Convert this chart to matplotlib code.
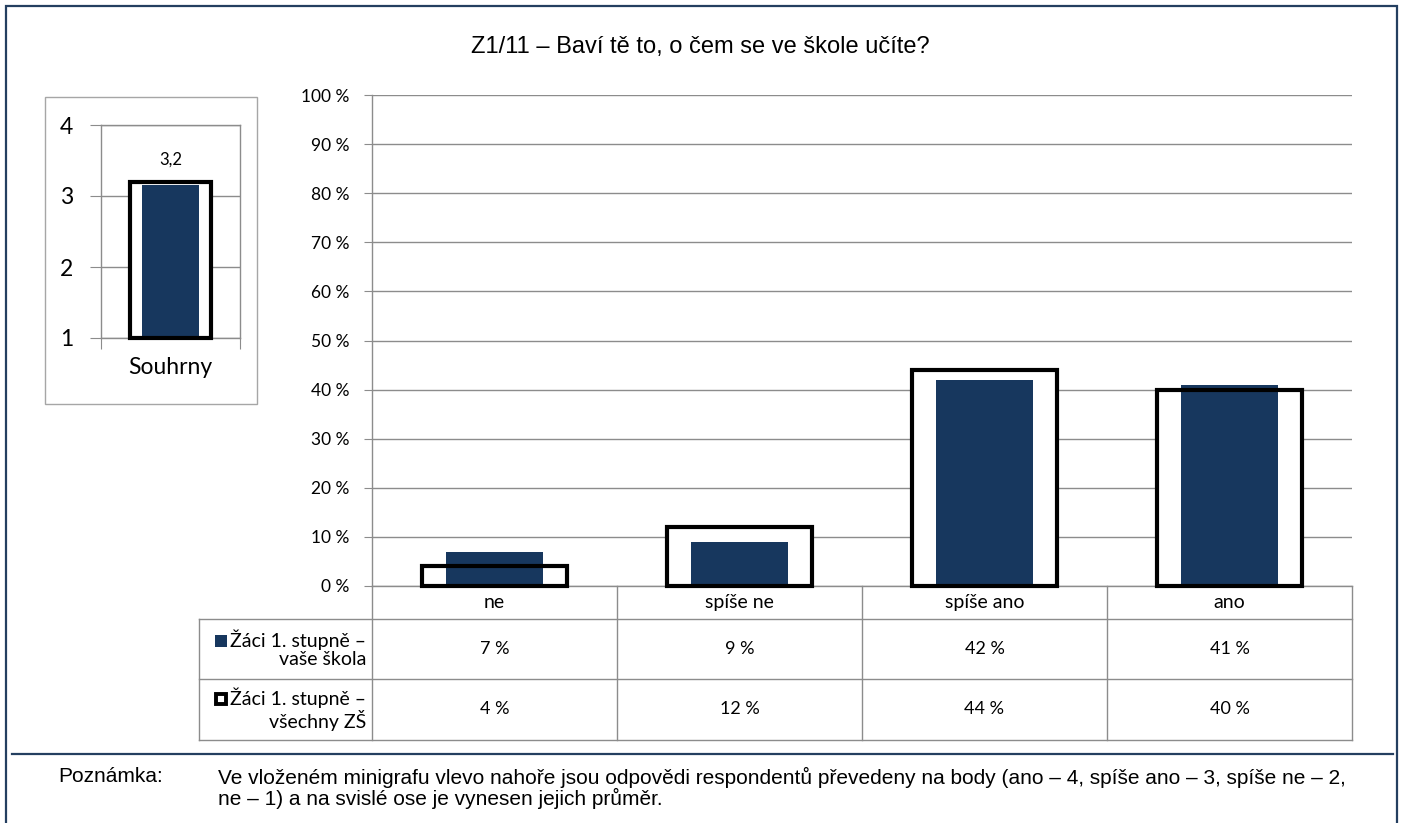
import numpy as np
import matplotlib
matplotlib.use("Agg")
import matplotlib.pyplot as plt
from matplotlib.patches import Rectangle
from matplotlib.transforms import blended_transform_factory

# ---------------- data ----------------
title = "Z1/11 – Baví tě to, o čem se ve škole učíte?"
categories = ["ne", "spíše ne", "spíše ano", "ano"]
school_pct = [7, 9, 42, 41]          # Žáci 1. stupně – vaše škola
all_pct = [4, 12, 44, 40]            # Žáci 1. stupně – všechny ZŠ
y_ticks = [0, 10, 20, 30, 40, 50, 60, 70, 80, 90, 100]
series_labels = ["Žáci 1. stupně –\nvaše škola", "Žáci 1. stupně –\nvšechny ZŠ"]
mini_category = "Souhrny"
mini_school = [3.16]
mini_all = [3.2]
mini_ticks = [1, 2, 3, 4]
note_label = "Poznámka:"
note_text = ("Ve vloženém minigrafu vlevo nahoře jsou odpovědi respondentů převedeny na body (ano – 4, spíše ano – 3, spíše ne – 2,\n"
             "ne – 1) a na svislé ose je vynesen jejich průměr.")

# ---------------- style ----------------
W, H = 1401, 823
NAVY = "#17375E"
GRID = "#8C8C8C"
FRAME = "#243F60"
CAL = ["Lato", "DejaVu Sans"]
ARIAL = ["Liberation Sans", "DejaVu Sans"]
FS_TICK = 12.5
FS_TAB = 14
FS_VAL = 13
FS_MINI = 16.5

fig = plt.figure(figsize=(W / 100, H / 100), dpi=100)
fig.patch.set_facecolor("white")

def fx(x):
    return x / W

def fy(y):
    return 1 - y / H

# overlay in pixel coordinates for layout lines and text
ov = fig.add_axes([0, 0, 1, 1], zorder=0)
ov.set_xlim(0, W)
ov.set_ylim(H, 0)
ov.axis("off")

# frame
ov.plot([6, 6, 1397, 1397], [H + 5, 6, 6, H + 5], color=FRAME, lw=1.6, solid_joinstyle="miter")
ov.plot([12, 1393], [754, 754], color=FRAME, lw=1.6)

# title
ov.text(700, 47, title, ha="center", va="center", fontsize=17, family=ARIAL, color="#000000")

# ---------------- main chart ----------------
L, R, T, B = 372, 1352, 95, 586
ax = fig.add_axes([fx(L), fy(B), (R - L) / W, (B - T) / H], zorder=2)
ax.patch.set_alpha(0)
x = np.arange(len(categories))
ax.bar(x, all_pct, width=0.59, color="white", edgecolor="none", zorder=2)
ax.bar(x, school_pct, width=0.395, color=NAVY, edgecolor="none", zorder=3)
ax.bar(x, all_pct, width=0.59, facecolor="none", edgecolor="black", linewidth=3.0,
       zorder=4, clip_on=False)
ax.set_xlim(-0.5, len(categories) - 0.5)
ax.set_ylim(0, 100)
ax.set_yticks(y_ticks)
ax.set_yticklabels([f"{v} %" for v in y_ticks], fontsize=FS_TICK, family=CAL)
ax.set_xticks([])
ax.yaxis.grid(True, color=GRID, lw=1)
ax.set_axisbelow(True)
for s in ["top", "right"]:
    ax.spines[s].set_visible(False)
for s in ["left", "bottom"]:
    ax.spines[s].set_color(GRID)
    ax.spines[s].set_linewidth(1)
ax.tick_params(axis="y", length=6, color=GRID, pad=10, direction="out")

# ---------------- data table ----------------
bt = blended_transform_factory(ax.transData, ov.transData)
rows_y = [586, 619, 679, 740]
left_col = 199
for b in np.arange(len(categories) + 1) - 0.5:
    ov.plot([b, b], [rows_y[0], rows_y[-1]], color=GRID, lw=1, transform=bt, clip_on=False)
for yy in rows_y[1:]:
    ov.plot([left_col, R], [yy, yy], color=GRID, lw=1)
ov.plot([left_col, left_col], [rows_y[1], rows_y[-1]], color=GRID, lw=1)

for i, c in enumerate(categories):
    ov.text(i, (rows_y[0] + rows_y[1]) / 2, c, transform=bt, ha="center", va="center",
            fontsize=FS_TAB, family=CAL)
    ov.text(i, (rows_y[1] + rows_y[2]) / 2, f"{school_pct[i]} %", transform=bt,
            ha="center", va="center", fontsize=FS_VAL, family=CAL)
    ov.text(i, (rows_y[2] + rows_y[3]) / 2, f"{all_pct[i]} %", transform=bt,
            ha="center", va="center", fontsize=FS_VAL, family=CAL)

label_texts = []
for k, lab in enumerate(series_labels):
    yc = (rows_y[k + 1] + rows_y[k + 2]) / 2
    t = ov.text(L - 6, yc, lab, ha="right", va="center", multialignment="right",
                fontsize=FS_TAB, family=CAL, linespacing=1.1)
    label_texts.append(t)

# ---------------- mini chart ----------------
ov.add_patch(Rectangle((45, 97), 257 - 45, 404 - 97, facecolor="none", edgecolor="#A6A6A6", lw=1))
mL, mR, mT, mB = 101, 240, 125, 338
m = fig.add_axes([fx(mL), fy(mB), (mR - mL) / W, (mB - mT) / H], zorder=2)
m.patch.set_alpha(0)
mx = np.arange(1)
m.bar(mx, mini_all, width=0.58, bottom=0, color="white", edgecolor="none", zorder=2)
m.bar(mx, mini_school, width=0.41, color=NAVY, edgecolor="none", zorder=3)
m.bar(mx, [v - 1 for v in mini_all], bottom=1, width=0.58, facecolor="none",
      edgecolor="black", linewidth=3.0, zorder=4, clip_on=False)
m.set_xlim(-0.5, 0.5)
m.set_ylim(1, 4)
m.set_yticks(mini_ticks)
m.set_yticklabels([str(v) for v in mini_ticks], fontsize=FS_MINI, family=CAL)
m.set_xticks([-0.5, 0.5])
m.set_xticklabels([])
m.yaxis.grid(True, color=GRID, lw=1)
m.set_axisbelow(True)
for s in m.spines.values():
    s.set_color(GRID)
    s.set_linewidth(1)
m.tick_params(axis="y", length=8, color=GRID, pad=12)
m.tick_params(axis="x", length=8, color=GRID)
mbt = blended_transform_factory(m.transData, ov.transData)
ov.text(0, 367, mini_category, transform=mbt, ha="center", va="center", fontsize=FS_MINI, family=CAL)
for i, v in enumerate(mini_school):
    m.annotate(f"{v:.1f}".replace(".", ","), (i, mini_all[i]), xytext=(0, 16),
               textcoords="offset points", ha="center", va="center", fontsize=12, family=CAL)

# ---------------- note ----------------
ov.text(58, 767, note_label, ha="left", va="top", fontsize=15, family=ARIAL)
ov.text(218, 767, note_text, ha="left", va="top", fontsize=15, family=ARIAL, linespacing=0.98)

# legend keys placed left of the first label line
fig.canvas.draw()
r = fig.canvas.get_renderer()
inv = ov.transData.inverted()
for k, t in enumerate(label_texts):
    bb = t.get_window_extent(renderer=r)
    lines = series_labels[k].split("\n")
    tmp = ov.text(0, 0, lines[0], fontsize=FS_TAB, family=CAL)
    w1 = tmp.get_window_extent(renderer=r).width
    tmp.remove()
    x_right = inv.transform((bb.x1, bb.y1))[0]
    x_start = x_right - w1
    y_top = inv.transform((bb.x0, bb.y1))[1]
    yc = y_top + 11
    s = 12
    if k == 0:
        ov.add_patch(Rectangle((x_start - s - 3, yc - s / 2), s, s, facecolor=NAVY, edgecolor="none"))
    else:
        ov.add_patch(Rectangle((x_start - s - 2, yc - s / 2 + 1), s - 2, s - 2, facecolor="white",
                               edgecolor="black", lw=2.8))

fig.savefig("out.png", dpi=100, facecolor="white")
